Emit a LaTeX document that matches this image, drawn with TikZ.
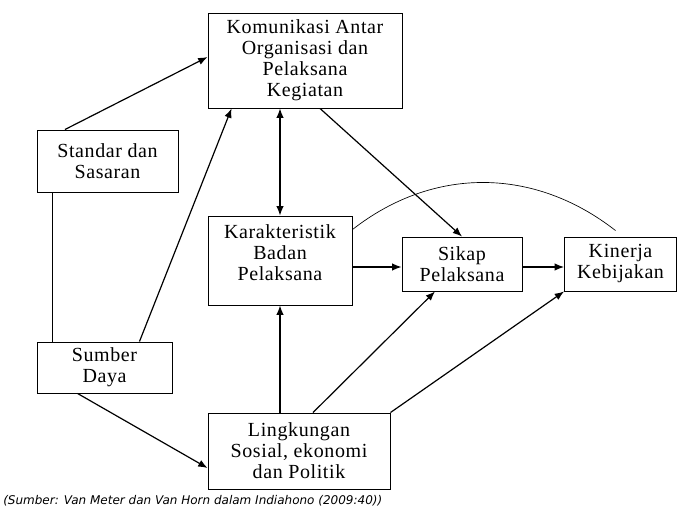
\documentclass[tikz,border=0pt]{standalone}
\usepackage{fontspec}
\setmainfont{Liberation Serif}[LetterSpace=3]
\newfontfamily\capfont{DejaVu Sans}
\usetikzlibrary{arrows.meta,calc}

\begin{document}
\begin{tikzpicture}[x=0.75pt,y=-0.75pt,>={Latex[length=7pt,width=5.5pt]},
  box/.style={draw,line width=0.7pt,align=center,inner sep=0pt,font=\fontsize{15}{15.75}\selectfont},
  link/.style={->,line width=0.9pt}]
  \useasboundingbox (0,0) rectangle (677,506);
  \node (kom) [box,minimum width=145.5pt,minimum height=71.25pt] at (305,60.5) {Komunikasi Antar\\Organisasi dan\\Pelaksana\\Kegiatan};
  \node (std) [box,minimum width=105.75pt,minimum height=46.5pt] at (107.5,161) {Standar dan\\Sasaran};
  \node (kar) [box,minimum width=108pt,minimum height=66.75pt] at (280,260.5) {Karakteristik\\Badan\\Pelaksana\\[-4pt]\mbox{}};
  \node (sik) [box,minimum width=90pt,minimum height=40.5pt] at (462,264) {Sikap\\Pelaksana};
  \node (kin) [box,minimum width=84pt,minimum height=40.5pt] at (620.5,264) {Kinerja\\Kebijakan};
  \node (sum) [box,minimum width=101.25pt,minimum height=38.25pt] at (104.5,367.5) {Sumber\\Daya};
  \node (lin) [box,minimum width=136.5pt,minimum height=57pt] at (299,451) {Lingkungan\\Sosial, ekonomi\\dan Politik};
  \node (src) [anchor=base west,inner sep=0pt,font=\capfont\itshape\fontsize{9}{11}\selectfont] at (3,504) {(Sumber: Van Meter dan Van Horn dalam Indiahono (2009:40))};

  \coordinate (ks) at ([yshift=-2.25pt]sik.west);
  \draw[link] ($(std.north west)!0.2!(std.north east)$) -- ([yshift=2.6pt]kom.west);
  \draw[line width=0.9pt] ([xshift=12pt]std.south west) -- ([xshift=12pt]sum.north west);
  \draw[link] ([xshift=-24.75pt]sum.north east) -- ([xshift=18pt]kom.south west);
  \draw[link] ([xshift=30.75pt]sum.south west) -- ([yshift=-12.75pt]lin.west);
  \draw[<->,line width=0.9pt] (kar.north) -- (kom.south -| kar.north);
  \draw[link] ([xshift=11.25pt]kom.south) -- (sik.north);
  \draw[link] (ks -| kar.east) -- (ks);
  \draw[link] (ks -| sik.east) -- (ks -| kin.west);
  \draw[link] (kar.south |- lin.north) -- (kar.south);
  \draw[link] ([xshift=10.5pt]lin.north) -- ([xshift=-20.25pt]sik.south);
  \draw[link] (lin.north east) -- (kin.south west);
  \draw[line width=0.5pt] ([yshift=-10.5pt]kar.north east) to[out=38,in=142] ([xshift=-3.75pt,yshift=4.5pt]kin.north);
\end{tikzpicture}
\end{document}
